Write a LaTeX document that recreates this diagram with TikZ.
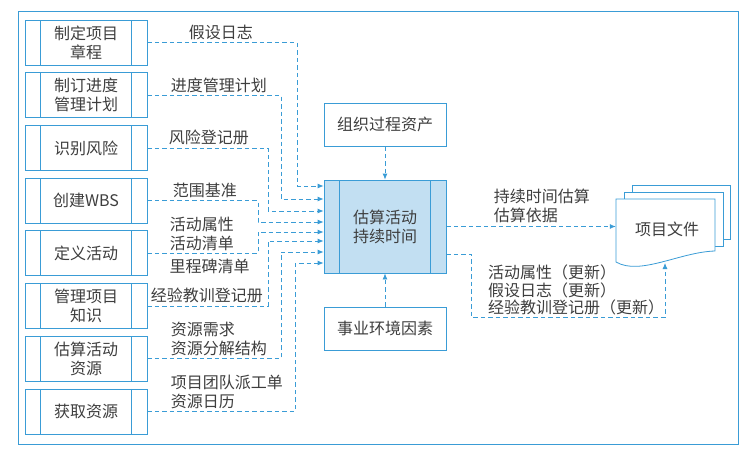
\documentclass[tikz,border=0pt]{standalone}
\usepackage{fontspec}
\setmainfont{Noto Sans CJK SC}
\usetikzlibrary{arrows.meta}
\definecolor{pmline}{RGB}{58,156,214}
\definecolor{pmfill}{RGB}{194,223,242}
\definecolor{pmtext}{RGB}{62,62,62}

\begin{document}
\begin{tikzpicture}[x=1pt,y=-1pt,node distance=52.7pt,text=pmtext,
		font=\fontsize{16}{19}\selectfont,
		proc/.style={rectangle,draw=pmline,line width=0.8pt,fill=white,minimum width=122pt,minimum height=45pt,inner sep=0pt,align=center,
			path picture={\draw[pmline,line width=0.8pt]
				([xshift=15.5pt]path picture bounding box.north west) -- ([xshift=15.5pt]path picture bounding box.south west)
				([xshift=-15.5pt]path picture bounding box.north east) -- ([xshift=-15.5pt]path picture bounding box.south east);}},
		env/.style={rectangle,draw=pmline,line width=0.8pt,fill=white,minimum width=122pt,minimum height=43pt,inner sep=0pt},
		flow/.style={pmline,line width=0.8pt,dash pattern=on 4.5pt off 3pt,-{Latex[length=6pt,width=5pt]}},
		lbl/.style={align=left,text=pmtext,inner xsep=0pt,inner ysep=2.5pt}]
	\useasboundingbox (0,0) rectangle (754,455);
	\draw[pmline,line width=0.8pt] (18,11) rectangle (738,444);

	\node (chrt) [proc] at (86,42.5) {制定项目\\章程};
	\node (schd) [proc,below of=chrt] {制订进度\\管理计划};
	\node (risk) [proc,below of=schd] {识别风险};
	\node (wbs) [proc,below of=risk] {创建WBS};
	\node (defa) [proc,below of=wbs] {定义活动};
	\node (know) [proc,below of=defa] {管理项目\\知识};
	\node (estr) [proc,below of=know] {估算活动\\资源};
	\node (acqr) [proc,below of=estr] {获取资源};

	\node (act) [proc,minimum height=93pt,fill=pmfill] at (385,226.5) {估算活动\\持续时间};
	\node (opa) [env] at (385,124.5) {组织过程资产};
	\node (eef) [env] at (385,328.5) {事业环境因素};

	% project documents
	\draw[pmline,line width=0.8pt,fill=white] (632,185) rectangle (730,239);
	\draw[pmline,line width=0.8pt,fill=white] (624,192) rectangle (723,246);
	\draw[pmline,line width=0.8pt,fill=white] (616,199) -- (715,199) -- (715,251) .. controls (680,252) and (640,276) .. (616,262) -- cycle;
	\node (docs) [minimum width=102pt,minimum height=55pt] at (667,229) {项目文件};
	\coordinate (docb) at (665,263);

	% inputs
	\foreach \src/\bx/\dy/\lx/\txt in {chrt/297/40.5/41/假设日志, schd/281/27.5/23/进度管理计划, risk/268/15.5/21/风险登记册, wbs/258/4.5/25/范围基准, defa/258/-5.5/22/{活动属性\\活动清单}, know/268/-14.5/3/经验教训登记册, estr/281/-25.5/23/{资源需求\\资源分解结构}, acqr/295/-36.5/23/{项目团队派工单\\资源日历}}
		\draw[flow] (\src.east) node[lbl,anchor=south west,xshift=\lx pt] (l-\src) {\txt} -- (\src.east -| \bx,0) |- ([yshift=\dy pt]act.west);
	\node (l-mile) [lbl,anchor=north west,inner ysep=5.5pt] at ([xshift=22pt]defa.east) {里程碑清单};

	% outputs
	\draw[flow] (opa) -- (act);
	\draw[flow] (eef) -- (act);
	\draw[flow] (act.east) node[lbl,anchor=south west,xshift=47pt,inner ysep=3.5pt] (l-est) {持续时间估算\\估算依据} -- (act.east -| docs.west);
	\draw[flow] ([yshift=-27.5pt]act.east) -- ++(25,0) -- ++(0,63) -| (docb);
	\node (l-upd) [lbl,anchor=west,font=\fontsize{16}{17.2}\selectfont] at (488,290) {活动属性（更新）\\假设日志（更新）\\经验教训登记册（更新）};
\end{tikzpicture}
\end{document}
